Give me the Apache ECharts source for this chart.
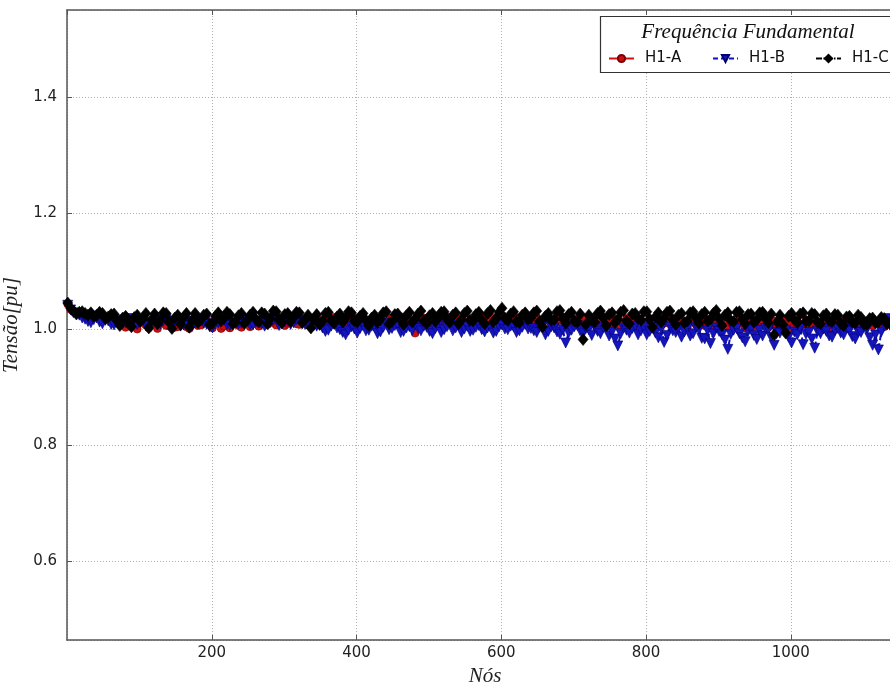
<!DOCTYPE html>
<html>
<head>
<meta charset="utf-8">
<script src="https://cdn.jsdelivr.net/npm/echarts@6/dist/echarts.min.js"></script>
<style>
  html, body { margin: 0; padding: 0; background: #fff; }
  #main { width: 890px; height: 682px; }
</style>
</head>
<body>
<div id="main"></div>
<script>
var stepNodes = 4;
var firstNode = 1;

var h1A = [
  1.043,1.034, 1.030,1.028, 1.027,1.024, 1.025,1.026, 1.024,1.021, 1.022,1.020, 1.023,1.017, 1.019,1.022, 1.021,1.011, 1.014,1.008,
  1.003,1.009, 1.012,1.005, 1.000,1.011, 1.015,1.007, 1.002,1.013, 1.010,1.001, 1.018,1.010, 1.006,1.014, 1.012,1.003, 1.004,1.015,
  1.011,1.004, 1.001,1.009, 1.013,1.006, 1.007,1.014, 1.016,1.008, 1.002,1.011, 1.012,1.001, 1.005,1.013, 1.002,1.008, 1.014,1.006,
  1.003,1.012, 1.010,1.004, 1.016,1.009, 1.005,1.014, 1.013,1.008, 1.019,1.011, 1.007,1.017, 1.015,1.006, 1.010,1.016, 1.018,1.009,
  1.008,1.017, 1.015,1.007, 1.011,1.016, 1.019,1.010, 1.006,1.015, 1.014,1.008, 1.020,1.012, 1.009,1.018, 1.016,1.007, 1.012,1.019,
  1.018,1.010, 1.007,1.016, 1.015,1.006, 1.010,1.018, 1.020,1.011, 1.012,1.019, 1.017,1.009, 1.008,1.015, 1.021,1.012, 1.013,1.004,
  0.993,1.006, 1.012,1.019, 1.018,1.010, 1.009,1.017, 1.016,1.008, 1.013,1.021, 1.020,1.012, 1.007,1.018, 1.015,1.009, 1.011,1.016,
  1.017,1.012, 1.010,1.019, 1.021,1.014, 1.013,1.020, 1.018,1.010, 1.022,1.015, 1.016,1.008, 1.012,1.020, 1.019,1.011, 1.009,1.017,
  1.014,1.008, 1.020,1.013, 1.011,1.018, 1.017,1.006, 1.008,1.016, 1.015,1.021, 1.019,1.009, 1.010,1.017, 1.016,1.007, 1.012,1.019,
  1.009,1.016, 1.017,1.008, 1.013,1.019, 1.020,1.011, 1.006,1.017, 1.014,1.004, 1.011,1.018, 1.018,1.010, 1.007,1.016, 1.015,1.006,
  1.012,1.018, 1.005,1.013, 1.016,1.007, 1.010,1.017, 1.019,1.009, 1.008,1.015, 1.014,1.006, 1.003,1.012, 1.015,1.008, 1.011,1.017,
  1.006,1.013, 1.014,1.005, 1.009,1.016, 1.017,1.008, 1.004,1.014, 1.012,1.006, 1.015,1.009, 1.002,1.012, 1.013,1.004, 1.008,1.015,
  1.011,1.006, 1.003,1.012, 1.014,1.004, 1.007,1.015, 1.016,1.009, 1.001,1.013, 1.012,1.005, 1.009,1.016, 1.004,1.011, 1.013,1.007,
  1.007,1.013, 1.012,1.006, 1.003,1.011, 1.010,1.004, 1.014,1.008, 1.005,1.012, 1.011,1.003, 1.002,1.010, 1.009,1.013, 1.006,1.011,
  1.010,1.005, 1.004,1.012, 1.008,1.003, 1.005,1.009
];

var h1B = [
  1.041,1.033, 1.028,1.026, 1.024,1.019, 1.017,1.013, 1.011,1.016, 1.019,1.012, 1.009,1.015, 1.014,1.008, 1.007,1.012, 1.016,1.010,
  1.011,1.015, 1.018,1.010, 1.008,1.013, 1.015,1.006, 1.004,1.011, 1.013,1.007, 1.009,1.014, 1.016,1.010, 1.006,1.013, 1.012,1.005,
  1.007,1.012, 1.014,1.006, 1.010,1.015, 1.017,1.010, 1.008,1.004, 1.002,1.009, 1.011,1.016, 1.015,1.008, 1.006,1.011, 1.013,1.009,
  1.010,1.013, 1.016,1.007, 1.008,1.012, 1.014,1.009, 1.005,1.010, 1.012,1.015, 1.017,1.006, 1.009,1.013, 1.014,1.008, 1.011,1.016,
  1.015,1.010, 1.008,1.012, 1.013,1.006, 1.005,1.009, 1.002,0.996, 0.998,1.005, 1.009,1.002, 0.999,0.994, 0.990,0.998, 1.004,1.000,
  0.993,1.001, 1.006,0.997, 0.998,1.005, 1.003,0.992, 0.995,1.003, 1.010,0.999, 1.001,1.006, 1.007,0.994, 0.996,1.002, 1.004,0.998,
  1.008,1.001, 0.997,1.005, 1.003,0.996, 0.992,1.001, 1.006,0.994, 0.999,1.004, 1.009,0.997, 1.002,1.007, 0.994,1.000, 1.005,0.996,
  0.998,1.003, 1.006,0.999, 0.995,1.002, 1.003,0.993, 0.996,1.004, 1.007,1.000, 0.999,1.005, 1.004,0.994, 0.997,1.003, 1.008,1.000,
  1.001,0.997, 0.994,1.003, 1.005,0.990, 0.996,1.004, 1.002,0.995, 0.991,0.999, 0.976,0.993, 0.998,1.004, 1.006,0.997, 0.993,1.001,
  0.999,0.989, 1.004,0.996, 0.992,1.003, 1.001,0.988, 0.995,0.983, 0.971,0.992, 1.002,0.998, 0.993,1.001, 1.005,0.990, 0.997,1.003,
  0.990,0.996, 1.003,0.993, 0.985,1.000, 0.977,0.989, 1.004,0.997, 0.994,1.002, 0.986,0.995, 1.001,0.988, 0.992,1.003, 0.999,0.984,
  0.983,0.997, 0.975,0.992, 1.002,0.996, 0.990,0.981, 0.965,0.991, 0.998,1.001, 0.992,0.985, 0.978,0.996, 1.000,0.989, 0.982,0.998,
  0.988,1.001, 0.999,0.985, 0.972,0.994, 0.993,1.000, 0.997,0.986, 0.976,0.995, 0.990,1.002, 0.973,0.991, 0.994,0.983, 0.967,0.996,
  0.992,1.000, 0.996,0.988, 0.986,0.998, 1.001,0.993, 0.990,1.002, 0.997,0.987, 0.983,0.996, 0.994,1.003, 0.999,0.985, 0.972,0.990,
  0.964,0.995, 1.006,1.012, 1.018,1.008, 1.002,1.010
];

var h1C = [
  1.045,1.036, 1.031,1.026, 1.029,1.030, 1.027,1.024, 1.028,1.022, 1.024,1.029, 1.027,1.018, 1.021,1.025, 1.026,1.014, 1.006,1.019,
  1.022,1.010, 1.004,1.020, 1.024,1.013, 1.018,1.027, 1.002,1.016, 1.026,1.009, 1.015,1.028, 1.027,1.012, 1.001,1.019, 1.024,1.008,
  1.020,1.027, 1.003,1.015, 1.027,1.011, 1.016,1.024, 1.026,1.008, 1.010,1.022, 1.028,1.014, 1.019,1.029, 1.025,1.009, 1.012,1.023,
  1.027,1.010, 1.015,1.024, 1.029,1.017, 1.012,1.028, 1.026,1.009, 1.018,1.031, 1.030,1.016, 1.011,1.025, 1.027,1.013, 1.020,1.029,
  1.028,1.011, 1.016,1.024, 1.002,1.017, 1.025,1.008, 1.014,1.027, 1.029,1.015, 1.010,1.021, 1.026,1.012, 1.019,1.030, 1.028,1.014,
  1.012,1.022, 1.027,1.015, 1.006,1.019, 1.024,1.011, 1.017,1.028, 1.030,1.009, 1.013,1.025, 1.026,1.016, 1.008,1.023, 1.029,1.012,
  1.018,1.026, 1.031,1.014, 1.010,1.023, 1.027,1.013, 1.020,1.029, 1.030,1.017, 1.012,1.024, 1.028,1.009, 1.016,1.027, 1.031,1.015,
  1.014,1.025, 1.029,1.016, 1.009,1.027, 1.032,1.012, 1.018,1.029, 1.036,1.019, 1.015,1.026, 1.030,1.013, 1.011,1.024, 1.028,1.017,
  1.019,1.028, 1.031,1.013, 1.004,1.022, 1.027,1.015, 1.016,1.030, 1.032,1.018, 1.010,1.025, 1.029,1.014, 1.012,1.026, 0.982,1.008,
  1.024,1.016, 1.012,1.027, 1.031,1.019, 1.006,1.025, 1.028,1.011, 1.017,1.029, 1.032,1.014, 1.009,1.026, 1.027,1.018, 1.015,1.030,
  1.030,1.017, 1.003,1.021, 1.028,1.012, 1.019,1.029, 1.031,1.016, 1.008,1.024, 1.027,1.011, 1.014,1.028, 1.030,1.019, 1.010,1.025,
  1.029,1.014, 1.017,1.027, 1.032,1.018, 1.006,1.024, 1.028,1.015, 1.013,1.029, 1.030,1.017, 1.009,1.025, 1.026,1.012, 1.016,1.028,
  1.029,1.018, 1.011,1.026, 0.990,1.012, 1.024,1.008, 0.993,1.022, 1.027,1.016, 1.011,1.026, 1.028,1.013, 1.014,1.027, 1.025,1.012,
  1.009,1.023, 1.026,1.015, 1.013,1.025, 1.024,1.010, 1.006,1.021, 1.022,1.012, 1.011,1.024, 1.020,1.009, 1.008,1.018, 1.019,1.011,
  1.012,1.020, 1.018,1.009, 1.010,1.017, 1.016,1.012
];

var legendNames = ['H1-A', 'H1-B', 'H1-C'];
var legendLeft = [608, 712, 815];
var legendTitle = 'Frequência Fundamental';

function pairs(values) {
  var out = [];
  for (var i = 0; i < values.length; i++) {
    out.push([firstNode + i * stepNodes, values[i]]);
  }
  return out;
}

var chart = echarts.init(document.getElementById('main'));

var tickFont = { fontFamily: 'DejaVu Sans', fontSize: 15, color: '#222' };
var spine = { show: true, lineStyle: { color: '#555', width: 1.5 } };
var grid = { show: true, lineStyle: { color: '#b0b0b0', width: 1, type: [1, 2] } };
var tick = { inside: true, length: 5, lineStyle: { color: '#555' } };

// uma legenda por série, para posicionar cada item como no original
var legends = legendNames.map(function (name, i) {
  return {
    data: [name], left: legendLeft[i], top: 51, z: 20, padding: 0,
    itemWidth: 25, itemHeight: 9,
    textStyle: { fontFamily: 'DejaVu Sans', fontSize: 15, color: '#111', padding: [0, 0, 0, 6] }
  };
});

var option = {
  animation: false,
  backgroundColor: '#fff',
  grid: { left: 67, top: 10, width: 836, height: 630, containLabel: false, outerBoundsMode: 'none' },
  xAxis: [{
    type: 'value', min: 0, max: 1155, position: 'bottom',
    name: 'Nós', nameLocation: 'middle', nameGap: 22,
    nameTextStyle: { fontFamily: 'Liberation Serif', fontStyle: 'italic', fontSize: 21, color: '#222' },
    axisLine: spine,
    axisTick: tick,
    axisLabel: Object.assign({
      margin: 6, showMinLabel: false, showMaxLabel: false,
      formatter: function (v) { return String(v); }
    }, tickFont),
    splitLine: grid
  }, {
    type: 'value', min: 0, max: 1155, position: 'top',
    axisLine: spine,
    axisTick: tick,
    axisLabel: { show: false },
    splitLine: { show: false }
  }],
  yAxis: {
    type: 'value', min: 0.464, max: 1.55,
    name: 'Tensão[pu]', nameLocation: 'middle', nameGap: 36,
    nameTextStyle: { fontFamily: 'Liberation Serif', fontStyle: 'italic', fontSize: 21, color: '#222' },
    axisLine: spine,
    axisTick: tick,
    axisLabel: Object.assign({
      margin: 10, showMinLabel: false, showMaxLabel: false,
      formatter: function (v) { return v.toFixed(1); }
    }, tickFont),
    splitLine: grid
  },
  legend: legends,
  graphic: [
    { type: 'rect', z: 10, shape: { x: 600.5, y: 16.5, width: 320, height: 56 },
      style: { fill: '#fff', stroke: '#333', lineWidth: 1.2 } },
    { type: 'text', z: 21, x: 748, y: 32,
      style: { text: legendTitle, font: 'italic 21px "Liberation Serif"', fill: '#111',
               textAlign: 'center', textVerticalAlign: 'middle' } }
  ],
  series: [{
    name: 'H1-A', type: 'line', data: pairs(h1A),
    showSymbol: true, showAllSymbol: true,
    symbol: 'circle', symbolSize: 8,
    lineStyle: { color: '#d01010', width: 2, type: 'solid' },
    itemStyle: { color: '#c81010', borderColor: '#7a0000', borderWidth: 0.6 }
  }, {
    name: 'H1-B', type: 'line', data: pairs(h1B),
    showSymbol: true, showAllSymbol: true,
    symbol: 'triangle', symbolRotate: 180, symbolSize: 10,
    lineStyle: { color: '#1010c8', width: 2, type: [5, 3] },
    itemStyle: { color: '#1515c0', borderColor: '#000070', borderWidth: 0.6 }
  }, {
    name: 'H1-C', type: 'line', data: pairs(h1C),
    showSymbol: true, showAllSymbol: true,
    symbol: 'diamond', symbolSize: [10, 12],
    lineStyle: { color: '#000', width: 2.2, type: [6, 1.5, 1.5, 1.5] },
    itemStyle: { color: '#000', borderColor: '#000', borderWidth: 0.6 }
  }]
};

chart.setOption(option);
</script>
</body>
</html>
